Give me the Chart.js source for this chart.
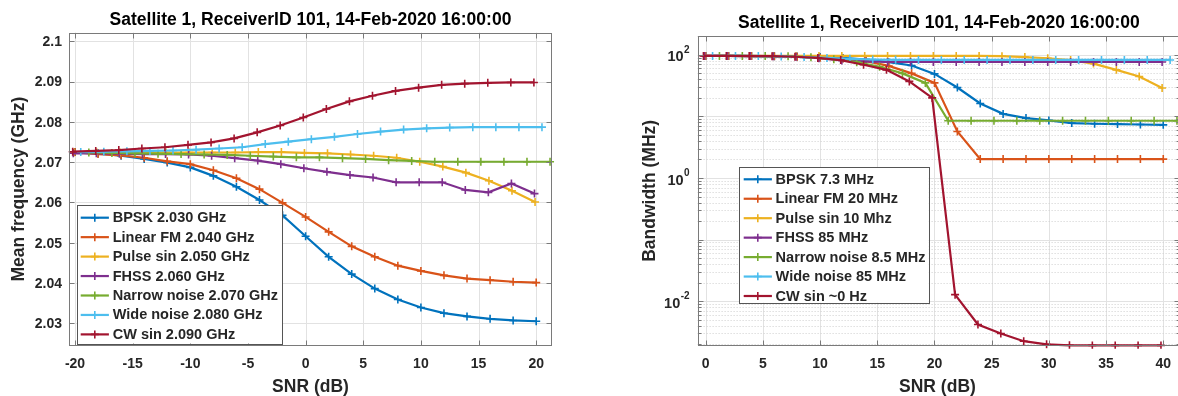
<!DOCTYPE html>
<html>
<head>
<meta charset="utf-8">
<script src="https://cdn.jsdelivr.net/npm/chart.js@4.4.1/dist/chart.umd.min.js"></script>
<style>
  html, body { margin: 0; padding: 0; background: #fff; overflow: hidden; width: 1178px; height: 396px; }
  #wrapFreq { position: absolute; left: 0; top: 0; width: 589px; height: 396px; }
  #wrapBw { position: absolute; left: 589px; top: 0; width: 620px; height: 396px; }
  canvas { display: block; }
</style>
</head>
<body>
<div id="wrapFreq"><canvas id="freq" width="589" height="396"></canvas></div>
<div id="wrapBw"><canvas id="bw" width="620" height="396"></canvas></div>
<script>
// ---------- data ----------
const chartTitle = 'Satellite 1, ReceiverID 101, 14-Feb-2020 16:00:00';

const freqSNR = [-20, -18, -16, -14, -12, -10, -8, -6, -4, -2, 0, 2, 4, 6, 8, 10, 12, 14, 16, 18, 20];
const bwSNR = [0, 2, 4, 6, 8, 10, 12, 14, 16, 18, 20, 22, 24, 26, 28, 30, 32, 34, 36, 38, 40];

const seriesColors = ['#0072BD', '#D95319', '#EDB120', '#7E2F8E', '#77AC30', '#4DBEEE', '#A2142F'];

const freqLabels = ['BPSK 2.030 GHz', 'Linear FM 2.040 GHz', 'Pulse sin 2.050 GHz', 'FHSS 2.060 GHz',
                    'Narrow noise 2.070 GHz', 'Wide noise 2.080 GHz', 'CW sin 2.090 GHz'];
const bwLabels = ['BPSK 7.3 MHz', 'Linear FM 20 MHz', 'Pulse sin 10 Mhz', 'FHSS 85 MHz',
                  'Narrow noise 8.5 MHz', 'Wide noise 85 MHz', 'CW sin ~0 Hz'];

// per-series offset of the sample points along the SNR axis (dB)
const freqShift = [0, 0, -0.1, -0.15, 1.2, 0.5, -0.2];
const bwShift = [0, 0, -0.1, -0.1, 1.2, 0.6, -0.2];

// mean frequency (GHz)
const freqBPSK   = [2.0725, 2.0722, 2.0716, 2.0708, 2.0699, 2.0687, 2.0666, 2.0639, 2.0606, 2.0568, 2.0516, 2.0465, 2.0422, 2.0386, 2.0359, 2.0339, 2.0325, 2.0317, 2.0311, 2.0307, 2.0305];
const freqLFM    = [2.0725, 2.0720, 2.0717, 2.0711, 2.0702, 2.0695, 2.0680, 2.0660, 2.0633, 2.0599, 2.0564, 2.0527, 2.0491, 2.0465, 2.0443, 2.0430, 2.0419, 2.0411, 2.0407, 2.0403, 2.0401];
const freqPulse  = [2.0724, 2.0724, 2.0724, 2.0724, 2.0724, 2.0724, 2.0724, 2.0724, 2.0725, 2.0725, 2.0723, 2.0722, 2.0719, 2.0716, 2.0711, 2.0701, 2.0689, 2.0674, 2.0654, 2.0629, 2.0601];
const freqFHSS   = [2.0722, 2.0722, 2.0721, 2.0720, 2.0720, 2.0719, 2.0716, 2.0710, 2.0704, 2.0695, 2.0685, 2.0676, 2.0668, 2.0662, 2.0650, 2.0650, 2.0650, 2.0631, 2.0625, 2.0647, 2.0622];
const freqNarrow = [2.0724, 2.0723, 2.0722, 2.0721, 2.0720, 2.0719, 2.0718, 2.0716, 2.0714, 2.0712, 2.0712, 2.0710, 2.0708, 2.0705, 2.0703, 2.0701, 2.0701, 2.0701, 2.0701, 2.0701, 2.0701];
const freqWide   = [2.0725, 2.0726, 2.0727, 2.0728, 2.0729, 2.0731, 2.0734, 2.0737, 2.0745, 2.0751, 2.0757, 2.0763, 2.0770, 2.0776, 2.0781, 2.0784, 2.0786, 2.0787, 2.0787, 2.0787, 2.0787];
const freqCW     = [2.0726, 2.0728, 2.0730, 2.0734, 2.0737, 2.0743, 2.0749, 2.0759, 2.0774, 2.0791, 2.0811, 2.0832, 2.0851, 2.0865, 2.0877, 2.0885, 2.0892, 2.0895, 2.0897, 2.0898, 2.0898];

// bandwidth (MHz)
const bwBPSK   = [96, 96, 95.5, 95, 94, 92, 89, 84, 76, 67, 49, 29.5, 16.2, 11, 9.4, 8.6, 7.8, 7.6, 7.5, 7.4, 7.3];
const bwLFM    = [96, 96, 95.5, 94.5, 93, 90, 86, 79, 66, 50, 35, 5.7, 2.03, 2.03, 2.03, 2.03, 2.03, 2.03, 2.03, 2.03, 2.03];
const bwPulse  = [96, 96, 96, 96, 96, 96, 96, 96, 96, 96, 96, 96, 96, 95, 92, 88, 82, 72, 57, 44.5, 29];
const bwFHSS   = [96, 96, 96, 95, 93, 88, 81, 78, 76.5, 76.5, 76.5, 76.5, 76.5, 76.5, 76.5, 76.5, 76.5, 76.5, 76.5, 76.5, 76.5];
const bwNarrow = [96, 96, 95.5, 94.5, 91, 85, 76, 64, 50, 35, 8.5, 8.5, 8.5, 8.5, 8.5, 8.5, 8.5, 8.5, 8.5, 8.5, 8.5];
const bwWide   = [96, 96, 95.5, 94, 92, 89, 86, 84, 83, 82.6, 82.6, 82.6, 82.6, 82.6, 82.6, 82.6, 82.6, 82.6, 82.6, 82.6, 82.6];
const bwCW     = [96, 96, 95.5, 95, 93, 89, 82, 69, 57, 37, 20, 0.0128, 0.0042, 0.0030, 0.00225, 0.0020, 0.00193, 0.00192, 0.00192, 0.00192, 0.00192];

// axis ticks
const freqXTicks = [-20, -15, -10, -5, 0, 5, 10, 15, 20];
const freqYTicks = [2.03, 2.04, 2.05, 2.06, 2.07, 2.08, 2.09, 2.1];
const freqYTickLabels = ['2.03', '2.04', '2.05', '2.06', '2.07', '2.08', '2.09', '2.1'];
const bwXTicks = [0, 5, 10, 15, 20, 25, 30, 35, 40];
const bwYTicks = [0.01, 1, 100];
const bwYExponents = ['-2', '0', '2'];

// ---------- drawing ----------
const FONT = "'Liberation Sans', Arial, Helvetica, sans-serif";
const GRID = '#e2e2e2';
const MINOR = '#cfcfcf';
const FRAME = '#7a7a7a';
const TEXT = '#262626';

function buildSets(xs, shifts, series, labels) {
  return series.map((vals, i) => ({
    label: labels[i],
    data: vals.map((v, j) => ({ x: xs[j] + shifts[i], y: v })),
    borderColor: seriesColors[i],
    backgroundColor: seriesColors[i],
    borderWidth: 2.2,
    pointStyle: 'cross',
    pointRadius: 4,
    pointBorderWidth: 1.6,
    pointBorderColor: seriesColors[i],
    tension: 0,
    fill: false,
    order: series.length - i,
    clip: 3
  }));
}

function drawCross(ctx, x, y, r) {
  ctx.beginPath();
  ctx.moveTo(x - r, y); ctx.lineTo(x + r, y);
  ctx.moveTo(x, y - r); ctx.lineTo(x, y + r);
  ctx.stroke();
}

function decoPlugin(cfg) {
  return {
    id: 'deco_' + cfg.name,
    beforeDatasetsDraw(chart) {
      const { ctx, chartArea: a } = chart;
      const xs = chart.scales.x, ys = chart.scales.y;
      ctx.save();
      ctx.lineWidth = 1;
      // vertical grid
      ctx.strokeStyle = GRID;
      cfg.xTicks.forEach(v => {
        const px = Math.round(xs.getPixelForValue(v)) + 0.5;
        ctx.beginPath(); ctx.moveTo(px, a.top); ctx.lineTo(px, a.bottom); ctx.stroke();
      });
      // horizontal grid
      if (cfg.log) {
        const lo = Math.floor(Math.log10(ys.min)), hi = Math.ceil(Math.log10(ys.max));
        for (let k = lo; k <= hi; k++) {
          for (let m = 1; m <= 9; m++) {
            const v = m * Math.pow(10, k);
            if (v < ys.min || v > ys.max) continue;
            const py = Math.round(ys.getPixelForValue(v)) + 0.5;
            ctx.beginPath();
            if (m === 1) { ctx.strokeStyle = GRID; ctx.setLineDash([]); }
            else { ctx.strokeStyle = MINOR; ctx.setLineDash([1, 2]); }
            ctx.moveTo(a.left, py); ctx.lineTo(a.right, py); ctx.stroke();
          }
        }
        ctx.setLineDash([]);
      } else {
        ctx.strokeStyle = GRID;
        cfg.yTicks.forEach(v => {
          const py = Math.round(ys.getPixelForValue(v)) + 0.5;
          ctx.beginPath(); ctx.moveTo(a.left, py); ctx.lineTo(a.right, py); ctx.stroke();
        });
      }
      ctx.restore();
    },
    afterDatasetsDraw(chart) {
      const { ctx, chartArea: a } = chart;
      const xs = chart.scales.x, ys = chart.scales.y;
      ctx.save();
      // axes box
      ctx.strokeStyle = FRAME;
      ctx.lineWidth = 1;
      const L = Math.round(a.left) + 0.5, R = Math.round(a.right) - 0.5;
      const T = Math.round(a.top) + 0.5, B = Math.round(a.bottom) - 0.5;
      ctx.strokeRect(L, T, R - L, B - T);
      // inward tick marks
      const tl = 5;
      cfg.xTicks.forEach(v => {
        const px = Math.round(xs.getPixelForValue(v)) + 0.5;
        ctx.beginPath();
        ctx.moveTo(px, B); ctx.lineTo(px, B - tl);
        ctx.moveTo(px, T); ctx.lineTo(px, T + tl);
        ctx.stroke();
      });
      if (cfg.log) {
        const lo = Math.floor(Math.log10(ys.min)), hi = Math.ceil(Math.log10(ys.max));
        for (let k = lo; k <= hi; k++) {
          for (let m = 1; m <= 9; m++) {
            const v = m * Math.pow(10, k);
            if (v < ys.min || v > ys.max) continue;
            const len = m === 1 ? tl : 3;
            const py = Math.round(ys.getPixelForValue(v)) + 0.5;
            ctx.beginPath();
            ctx.moveTo(L, py); ctx.lineTo(L + len, py);
            ctx.moveTo(R, py); ctx.lineTo(R - len, py);
            ctx.stroke();
          }
        }
      } else {
        cfg.yTicks.forEach(v => {
          const py = Math.round(ys.getPixelForValue(v)) + 0.5;
          ctx.beginPath();
          ctx.moveTo(L, py); ctx.lineTo(L + tl, py);
          ctx.moveTo(R, py); ctx.lineTo(R - tl, py);
          ctx.stroke();
        });
      }

      // x tick labels
      ctx.fillStyle = TEXT;
      ctx.font = 'bold 14px ' + FONT;
      ctx.textAlign = 'center';
      ctx.textBaseline = 'middle';
      cfg.xTicks.forEach(v => {
        ctx.fillText(String(v), xs.getPixelForValue(v), a.bottom + 18.5);
      });
      // y tick labels
      if (cfg.log) {
        cfg.yTicks.forEach((v, i) => {
          const py = ys.getPixelForValue(v);
          const xr = a.left - 8;
          ctx.font = 'bold 10px ' + FONT;
          const ew = ctx.measureText(cfg.yExp[i]).width;
          ctx.textAlign = 'left';
          ctx.textBaseline = 'middle';
          ctx.fillText(cfg.yExp[i], xr - ew, py - 5);
          ctx.font = 'bold 14.5px ' + FONT;
          ctx.textAlign = 'right';
          ctx.fillText('10', xr - ew - 0.5, py + 2.5);
        });
      } else {
        ctx.textAlign = 'right';
        cfg.yTicks.forEach((v, i) => {
          ctx.fillText(cfg.yLabels[i], a.left - 7, ys.getPixelForValue(v) + 1);
        });
      }

      // axis titles
      ctx.font = 'bold 17.5px ' + FONT;
      ctx.textAlign = 'center';
      ctx.textBaseline = 'middle';
      ctx.fillText(cfg.xTitle, (a.left + a.right) / 2 + cfg.xTitleDx, a.bottom + 41.5);
      ctx.save();
      ctx.translate(a.left + cfg.yTitleDx, (a.top + a.bottom) / 2);
      ctx.rotate(-Math.PI / 2);
      ctx.fillText(cfg.yTitle, 0, 0);
      ctx.restore();

      // chart title
      ctx.fillStyle = '#000';
      ctx.fillText(chartTitle, (a.left + a.right) / 2, a.top - 12.5);

      // legend
      const lg = cfg.legend;
      ctx.fillStyle = '#fff';
      ctx.fillRect(lg.left, lg.top, lg.right - lg.left, lg.bottom - lg.top);
      ctx.strokeStyle = '#555';
      ctx.lineWidth = 1;
      ctx.strokeRect(Math.round(lg.left) + 0.5, Math.round(lg.top) + 0.5,
                     Math.round(lg.right - lg.left), Math.round(lg.bottom - lg.top));
      ctx.font = 'bold 14.5px ' + FONT;
      ctx.textAlign = 'left';
      ctx.textBaseline = 'middle';
      chart.data.datasets.forEach((ds, i) => {
        const y = lg.row0 + i * lg.rowGap;
        ctx.strokeStyle = ds.borderColor;
        ctx.lineWidth = 2.2;
        ctx.beginPath(); ctx.moveTo(lg.line0, y); ctx.lineTo(lg.line1, y); ctx.stroke();
        ctx.lineWidth = 1.6;
        drawCross(ctx, (lg.line0 + lg.line1) / 2, y, 4);
        ctx.fillStyle = TEXT;
        ctx.fillText(ds.label, lg.text, y + 0.5);
      });
      ctx.restore();
    }
  };
}

function makeChart(id, datasets, scales, padding, plugin) {
  return new Chart(document.getElementById(id), {
    type: 'line',
    data: { datasets },
    options: {
      responsive: false,
      devicePixelRatio: 1,
      animation: false,
      layout: { padding },
      plugins: { legend: { display: false }, title: { display: false }, tooltip: { enabled: false } },
      scales
    },
    plugins: [plugin]
  });
}

// mean frequency vs SNR
makeChart('freq',
  buildSets(freqSNR, freqShift,
    [freqBPSK, freqLFM, freqPulse, freqFHSS, freqNarrow, freqWide, freqCW], freqLabels),
  {
    x: { type: 'linear', display: false, min: -20.52, max: 21.37 },
    y: { type: 'linear', display: false, min: 2.0244, max: 2.1022 }
  },
  { left: 69, right: 37, top: 32.5, bottom: 50.2 },
  decoPlugin({
    name: 'freq', log: false,
    xTicks: freqXTicks, yTicks: freqYTicks, yLabels: freqYTickLabels,
    xTitle: 'SNR (dB)', yTitle: 'Mean frequency (GHz)', xTitleDx: 0, yTitleDx: -50,
    legend: { left: 77, top: 205, right: 282, bottom: 343.5, row0: 217.7, rowGap: 19.45, line0: 80.7, line1: 108.9, text: 112.7 }
  })
);

// bandwidth vs SNR (log scale)
makeChart('bw',
  buildSets(bwSNR, bwShift,
    [bwBPSK, bwLFM, bwPulse, bwFHSS, bwNarrow, bwWide, bwCW], bwLabels),
  {
    x: { type: 'linear', display: false, min: -0.71, max: 41.49 },
    y: { type: 'logarithmic', display: false, min: 0.0019, max: 202 }
  },
  { left: 108.6, right: 28.7, top: 36, bottom: 50.3 },
  decoPlugin({
    name: 'bw', log: true,
    xTicks: bwXTicks, yTicks: bwYTicks, yExp: bwYExponents,
    xTitle: 'SNR (dB)', yTitle: 'Bandwidth (MHz)', xTitleDx: -1.5, yTitleDx: -47.6,
    legend: { left: 150, top: 167, right: 339.6, bottom: 302.7, row0: 179.3, rowGap: 19.45, line0: 154.7, line1: 182.9, text: 186.6 }
  })
);
</script>
</body>
</html>
